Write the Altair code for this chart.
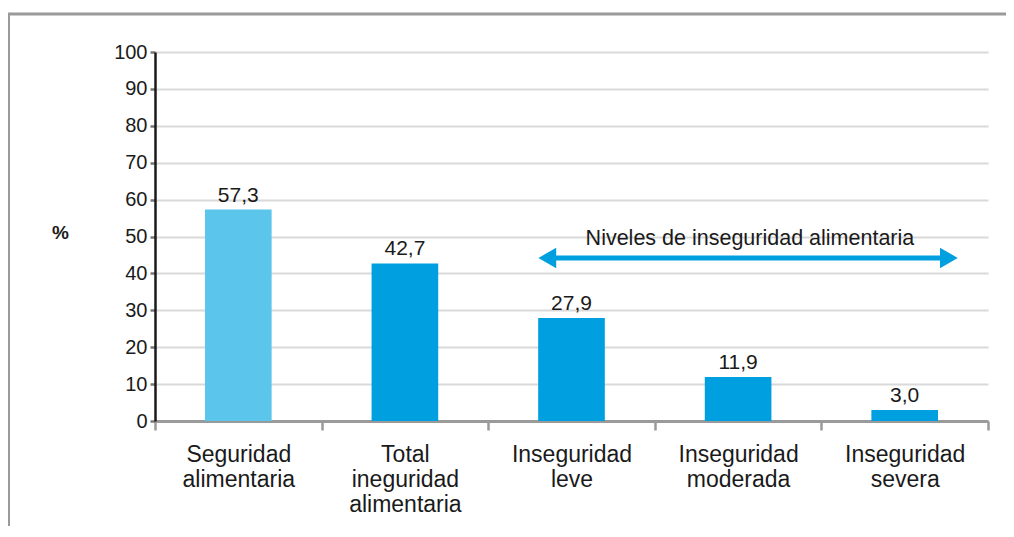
import altair as alt
import pandas as pd

categories = ["Seguridad alimentaria", "Total ineguridad alimentaria", "Inseguridad leve",
              "Inseguridad moderada", "Inseguridad severa"]
label_lines = [["Seguridad", "alimentaria"], ["Total", "ineguridad", "alimentaria"],
               ["Inseguridad", "leve"], ["Inseguridad", "moderada"], ["Inseguridad", "severa"]]
values = [57.3, 42.7, 27.9, 11.9, 3.0]
groups = ["seg", "inseg", "inseg", "inseg", "inseg"]
y_ticks = list(range(0, 101, 10))
arrow_text = "Niveles de inseguridad alimentaria"

FONT = "Liberation Sans"
LIGHT = "#5BC5EC"
DARK = "#009FE0"
TXT = "#1a1a1a"

df = pd.DataFrame({
    "cat": categories,
    "value": values,
    "group": groups,
    "label": [f"{v:.1f}".replace(".", ",") for v in values],
})

label_expr = "{" + ",".join(
    f"'{c}': [" + ",".join(f"'{l}'" for l in ls) + "]" for c, ls in zip(categories, label_lines)
) + "}[datum.value]"

xscale = alt.Scale(domain=categories, paddingInner=0, paddingOuter=0)
yscale = alt.Scale(domain=[0, 100])

x_axis = alt.Axis(
    title=None, labelAngle=0, labelExpr=label_expr, labelFontSize=23, labelFont=FONT,
    labelColor=TXT, labelPadding=13, labelLineHeight=25, tickBand="extent",
    tickSize=9, tickColor="#9a9a9a", tickWidth=2.5, domainColor="#9a9a9a", domainWidth=3,
    grid=False, labelBaseline="top")
y_axis = alt.Axis(
    title="%", titleAngle=0, titleFontSize=19, titleFont=FONT, titleFontWeight="bold",
    titleColor=TXT, titleX=-95, titleY=190, values=y_ticks, labelFontSize=20,
    labelFont=FONT, labelColor=TXT, labelPadding=3, tickSize=5, tickColor="#777777",
    tickWidth=2.5, domainColor=TXT, domainWidth=2.5, gridColor="#d9d9d9", gridWidth=2)

bars = alt.Chart(df).mark_bar(width=alt.RelativeBandSize(0.4)).encode(
    x=alt.X("cat:N", scale=xscale, sort=categories, axis=x_axis),
    y=alt.Y("value:Q", scale=yscale, axis=y_axis),
    color=alt.Color("group:N", scale=alt.Scale(domain=["seg", "inseg"], range=[LIGHT, DARK]),
                    legend=None),
)

texts = alt.Chart(df).mark_text(baseline="bottom", dy=-4, fontSize=21, font=FONT,
                                color=TXT).encode(
    x=alt.X("cat:N", scale=xscale, sort=categories, axis=x_axis),
    y=alt.Y("value:Q", scale=yscale, axis=y_axis),
    text="label:N")

ann = pd.DataFrame({"a": [0]})
AY = 44.2
arrow_line = alt.Chart(ann).mark_rule(color=DARK, strokeWidth=5).encode(
    x=alt.X(datum="Inseguridad leve", bandPosition=0.37, scale=xscale, axis=x_axis),
    x2=alt.X2(datum="Inseguridad severa", bandPosition=0.75),
    y=alt.Y(datum=AY, scale=yscale, axis=y_axis),
)
arrow_left = alt.Chart(ann).mark_point(shape="triangle-left", filled=True, opacity=1,
                                       color=DARK, size=420).encode(
    x=alt.X(datum="Inseguridad leve", bandPosition=0.355, scale=xscale, axis=x_axis),
    y=alt.Y(datum=AY, scale=yscale, axis=y_axis))
arrow_right = alt.Chart(ann).mark_point(shape="triangle-right", filled=True, opacity=1,
                                        color=DARK, size=420).encode(
    x=alt.X(datum="Inseguridad severa", bandPosition=0.765, scale=xscale, axis=x_axis),
    y=alt.Y(datum=AY, scale=yscale, axis=y_axis))
arrow_label = alt.Chart(ann).mark_text(fontSize=21.5, font=FONT, color=TXT).encode(
    x=alt.X(datum="Inseguridad moderada", bandPosition=0.571, scale=xscale, axis=x_axis),
    y=alt.Y(datum=49.4, scale=yscale, axis=y_axis), text=alt.value(arrow_text))

frame_top = alt.Chart(ann).mark_rule(color="#9a9a9a", strokeWidth=3).encode(
    x=alt.value(-147), x2=alt.value(880), y=alt.value(-38))
frame_left = alt.Chart(ann).mark_rule(color="#9a9a9a", strokeWidth=2).encode(
    x=alt.value(-146), y=alt.value(-38), y2=alt.value(480))

chart = alt.layer(bars, texts, arrow_line, arrow_left, arrow_right, arrow_label,
                  frame_top, frame_left).properties(
    width=833, height=369, autosize="none",
    padding={"left": 147, "top": 44, "right": 18, "bottom": 105},
).configure(font=FONT, background="white", view=alt.ViewConfig(stroke=None))

chart.save("out.html", embed_options={"renderer": "svg", "actions": False})
